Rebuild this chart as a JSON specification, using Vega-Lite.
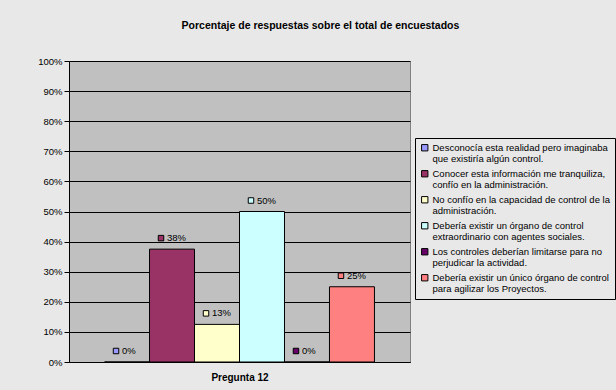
{
  "$schema": "https://vega.github.io/schema/vega-lite/v6.json",
  "width": 341,
  "height": 301,
  "autosize": {"type": "none"},
  "padding": {"left": 69, "top": 61, "right": 206, "bottom": 28},
  "background": "#e8e8e8",
  "title": {
    "text": "Porcentaje de respuestas sobre el total de encuestados",
    "font": "Liberation Sans",
    "fontSize": 10.5,
    "fontWeight": "bold",
    "color": "#000000",
    "anchor": "middle",
    "dx": 81,
    "offset": 25
  },
  "config": {
    "font": "Liberation Sans",
    "view": {"fill": "#c0c0c0", "stroke": "#808080", "strokeWidth": 1}
  },
  "data": {
    "values": [
      {"resp": "Desconocía esta realidad pero imaginaba|que existiría algún control.", "value": 0},
      {"resp": "Conocer esta información me tranquiliza,|confío en la administración.", "value": 0.375},
      {"resp": "No confío en la capacidad de control de la|administración.", "value": 0.125},
      {"resp": "Debería existir un órgano de control|extraordinario con agentes sociales.", "value": 0.5},
      {"resp": "Los controles deberían limitarse para no|perjudicar la actividad.", "value": 0},
      {"resp": "Debería existir un único órgano de control|para agilizar los Proyectos.", "value": 0.25}
    ]
  },
  "encoding": {
    "x": {
      "field": "resp",
      "type": "nominal",
      "sort": null,
      "scale": {"paddingInner": 0, "paddingOuter": 0.79},
      "axis": {
        "labels": false,
        "ticks": false,
        "title": "Pregunta 12",
        "titleFont": "Liberation Sans",
        "titleFontSize": 10,
        "titleFontWeight": "bold",
        "titleColor": "#000000",
        "titlePadding": 10,
        "domainColor": "#000000",
        "domainWidth": 1
      }
    },
    "y": {
      "field": "value",
      "type": "quantitative",
      "scale": {"domain": [0, 1], "nice": false},
      "axis": {
        "title": null,
        "format": ".0%",
        "values": [0, 0.1, 0.2, 0.3, 0.4, 0.5, 0.6, 0.7, 0.8, 0.9, 1],
        "grid": true,
        "gridColor": "#000000",
        "gridOpacity": 1,
        "gridWidth": 1,
        "domainColor": "#000000",
        "tickColor": "#000000",
        "tickSize": 5,
        "labelFontSize": 9.5,
        "labelColor": "#000000",
        "labelPadding": 2
      }
    }
  },
  "layer": [
    {
      "mark": {"type": "bar", "stroke": "#000000", "strokeWidth": 1},
      "encoding": {
        "color": {
          "field": "resp",
          "type": "nominal",
          "sort": null,
          "scale": {
            "range": ["#9999FF", "#993366", "#FFFFCC", "#CCFFFF", "#660066", "#FF8080"]
          },
          "legend": {
            "title": null,
            "orient": "none",
            "legendX": 346,
            "legendY": 77,
            "labelExpr": "split(datum.label, '|')",
            "labelFont": "Liberation Sans",
            "labelFontSize": 9.5,
            "labelColor": "#000000",
            "labelLimit": 300,
            "symbolType": "square",
            "symbolSize": 40,
            "symbolStrokeColor": "#000000",
            "symbolStrokeWidth": 1,
            "symbolOpacity": 1,
            "strokeColor": "#000000",
            "fillColor": "#e8e8e8",
            "padding": 5,
            "rowPadding": 4,
            "labelOffset": 3
          }
        }
      }
    },
    {
      "mark": {"type": "point", "shape": "square", "filled": true, "size": 30, "stroke": "#000000", "strokeWidth": 1, "opacity": 1, "xOffset": -11, "yOffset": -11},
      "encoding": {
        "fill": {
          "field": "resp",
          "type": "nominal",
          "sort": null,
          "scale": {
            "range": ["#9999FF", "#993366", "#FFFFCC", "#CCFFFF", "#660066", "#FF8080"]
          },
          "legend": null
        }
      }
    },
    {
      "mark": {"type": "text", "align": "left", "baseline": "middle", "dx": -5, "dy": -11, "fontSize": 9.5, "color": "#000000"},
      "encoding": {
        "text": {"field": "value", "type": "quantitative", "format": ".0%"}
      }
    }
  ]
}
